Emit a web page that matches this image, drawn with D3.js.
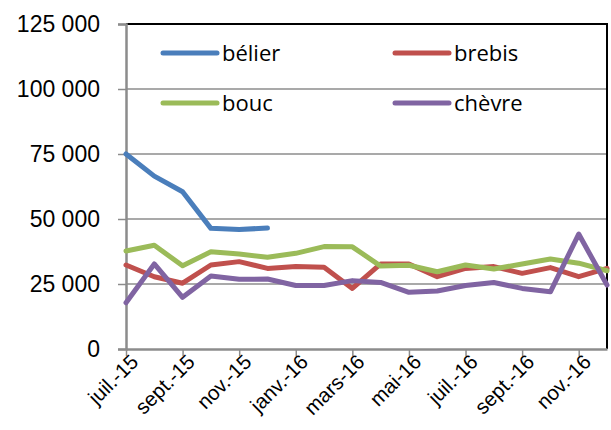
<!DOCTYPE html>
<html>
<head>
<meta charset="utf-8">
<script src="https://cdn.jsdelivr.net/npm/d3@7"></script>
<style>
  body { margin: 0; background: #fff; }
  svg { display: block; }
</style>
</head>
<body>
<div id="chart"></div>
<script>
const WIDTH = 611;
const HEIGHT = 430;
const MARGIN = {top: 24, right: 4, bottom: 81, left: 126};

// months, juil.-15 to déc.-16
const months = ["juil.-15", "août-15", "sept.-15", "oct.-15", "nov.-15", "déc.-15",
  "janv.-16", "févr.-16", "mars-16", "avr.-16", "mai-16", "juin-16",
  "juil.-16", "août-16", "sept.-16", "oct.-16", "nov.-16", "déc.-16"];
const tickLabels = ["juil.-15", "sept.-15", "nov.-15", "janv.-16", "mars-16", "mai-16", "juil.-16", "sept.-16", "nov.-16"];
const yTicks = [0, 25000, 50000, 75000, 100000, 125000];

const belier = [75000, 66500, 60500, 46400, 46000, 46500];
const brebis = [32300, 27800, 25300, 32300, 33600, 31000, 31700, 31400, 23300, 32700, 32700, 27800, 31000, 31700, 29100, 31300, 27800, 31000];
const bouc = [37700, 39900, 32000, 37400, 36500, 35300, 36800, 39400, 39300, 31900, 32200, 29700, 32300, 30800, 32700, 34600, 33000, 30100];
const chevre = [17800, 32700, 19900, 28100, 26800, 26900, 24400, 24400, 26300, 25600, 21800, 22300, 24400, 25600, 23300, 22000, 44200, 24600];

const seriesNames = ["bélier", "brebis", "bouc", "chèvre"];
const seriesColors = ["#4a7ebb", "#c0504d", "#9bbb59", "#8064a2"];
const seriesData = [belier, brebis, bouc, chevre];

const w = WIDTH - MARGIN.left - MARGIN.right;
const h = HEIGHT - MARGIN.top - MARGIN.bottom;

const svg = d3.select("#chart").append("svg")
  .attr("width", WIDTH).attr("height", HEIGHT);
const g = svg.append("g").attr("transform", `translate(${MARGIN.left},${MARGIN.top})`);

const x = d3.scalePoint().domain(months).range([0, w]);
const y = d3.scaleLinear().domain([0, 125000]).range([h, 0]);

const fmt = v => d3.format(",")(v).replace(/,/g, " ");

// gridlines
g.append("g").selectAll("line")
  .data(yTicks.slice(1))
  .enter().append("line")
  .attr("x1", 0).attr("x2", w)
  .attr("y1", d => y(d)).attr("y2", d => y(d))
  .attr("stroke", "#8c8c8c").attr("stroke-width", 1.5);

// plot border (top and right)
g.append("path")
  .attr("d", `M0,0H${w}V${h}`)
  .attr("fill", "none").attr("stroke", "#000").attr("stroke-width", 2);

// y axis
const yAxis = g.append("g")
  .call(d3.axisLeft(y).tickValues(yTicks).tickFormat(fmt).tickSize(8).tickPadding(18));
yAxis.select(".domain").attr("stroke", "#8c8c8c").attr("stroke-width", 2.5);
yAxis.selectAll(".tick line").attr("stroke", "#8c8c8c").attr("stroke-width", 1.5);
yAxis.selectAll("text")
  .attr("font-family", "Liberation Sans, Arial, sans-serif")
  .attr("font-size", 23).attr("fill", "#000");

// x axis
const xAxis = g.append("g")
  .attr("transform", `translate(0,${h})`)
  .call(d3.axisBottom(x).tickValues(tickLabels).tickSize(7).tickSizeOuter(0));
xAxis.select(".domain").attr("stroke", "#8c8c8c").attr("stroke-width", 2.5);
xAxis.selectAll(".tick line").attr("stroke", "#8c8c8c").attr("stroke-width", 1.5);
xAxis.selectAll("text")
  .attr("font-family", "Liberation Sans, Arial, sans-serif")
  .attr("font-size", 20.5).attr("fill", "#000")
  .attr("text-anchor", "end")
  .attr("dy", 0)
  .attr("transform", "translate(6,7) rotate(-45)");

// lines
const line = d3.line()
  .x((d, i) => x(months[i]))
  .y(d => y(d));

g.append("g").selectAll("path")
  .data(seriesData)
  .enter().append("path")
  .attr("d", d => line(d))
  .attr("fill", "none")
  .attr("stroke", (d, i) => seriesColors[i])
  .attr("stroke-width", 5)
  .attr("stroke-linejoin", "round")
  .attr("stroke-linecap", "round");

// legend
const legendPos = [[163, 53], [395, 53], [163, 103], [395, 103]];
const legend = svg.append("g").selectAll("g")
  .data(seriesNames)
  .enter().append("g")
  .attr("transform", (d, i) => `translate(${legendPos[i][0]},${legendPos[i][1]})`);
legend.append("line")
  .attr("x1", 0).attr("x2", 54)
  .attr("stroke", (d, i) => seriesColors[i])
  .attr("stroke-width", 5).attr("stroke-linecap", "round");
legend.append("text")
  .attr("x", 59).attr("dy", "0.35em")
  .attr("font-family", "Open Sans, sans-serif")
  .attr("font-size", 22)
  .text(d => d);
</script>
</body>
</html>
